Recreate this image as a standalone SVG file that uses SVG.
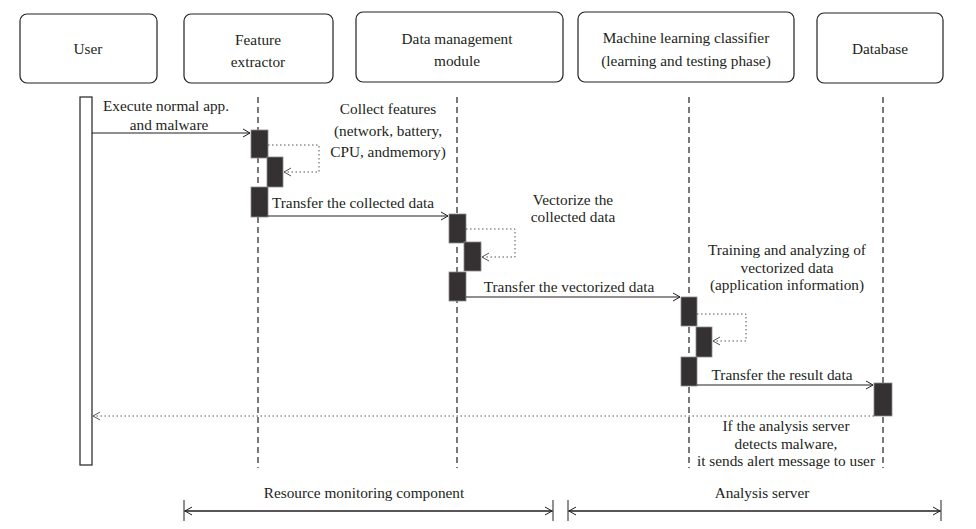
<svg xmlns="http://www.w3.org/2000/svg" width="976" height="529" viewBox="0 0 976 529">
<style>
text{font-family:"Liberation Serif","DejaVu Serif",serif;font-size:15.3px;fill:#231f20;text-anchor:middle}
.box{fill:#fff;stroke:#231f20;stroke-width:1.2}
.life{stroke:#231f20;stroke-width:1.2;stroke-dasharray:6,4;fill:none}
.act{fill:#353132;stroke:#8a8a8a;stroke-width:0.8}
.msg{stroke:#231f20;stroke-width:1.2;fill:none}
.dot{stroke:#555;stroke-width:1;stroke-dasharray:1.5,2.5;fill:none}
.head{fill:none;stroke:#231f20;stroke-width:1}
.tick{stroke:#231f20;stroke-width:1}
</style>
<defs>
<marker id="open" markerWidth="10" markerHeight="10" refX="8" refY="5" orient="auto" markerUnits="userSpaceOnUse">
<path d="M1,1 L8,5 L1,9" class="head"/>
</marker>
<marker id="openg" markerWidth="10" markerHeight="10" refX="8" refY="5" orient="auto" markerUnits="userSpaceOnUse">
<path d="M1,1 L8,5 L1,9" fill="none" stroke="#555" stroke-width="1"/>
</marker>
</defs>
<rect width="976" height="529" fill="#fff"/>

<g id="user">
<rect class="box" x="20" y="14" width="137" height="69" rx="7"/>
<text x="88" y="54">User</text>
<line class="life" x1="86" y1="97" x2="86" y2="465"/>
<rect x="80" y="97" width="12" height="368" fill="#fff" stroke="#231f20" stroke-width="1.2"/>
</g>

<g id="feature-extractor">
<rect class="box" x="184" y="14" width="149" height="69" rx="7"/>
<text x="258" y="45">Feature</text>
<text x="258" y="67">extractor</text>
<line class="life" x1="258" y1="97" x2="258" y2="468"/>
<rect class="act" x="251" y="130" width="17" height="28"/>
<rect class="act" x="267" y="157" width="16" height="30"/>
<rect class="act" x="251" y="187" width="17" height="30"/>
</g>

<g id="data-management">
<rect class="box" x="356" y="12" width="207" height="70" rx="7"/>
<text x="457" y="44">Data management</text>
<text x="457" y="66">module</text>
<line class="life" x1="457" y1="97" x2="457" y2="468"/>
<rect class="act" x="449" y="214" width="17" height="29"/>
<rect class="act" x="464" y="242" width="17" height="29"/>
<rect class="act" x="449" y="272" width="17" height="29"/>
</g>

<g id="ml-classifier">
<rect class="box" x="578" y="12" width="216" height="70" rx="7"/>
<text x="686" y="43">Machine learning classifier</text>
<text x="686" y="66">(learning and testing phase)</text>
<line class="life" x1="689" y1="97" x2="689" y2="468"/>
<rect class="act" x="681" y="297" width="16" height="29"/>
<rect class="act" x="696" y="327" width="16" height="30"/>
<rect class="act" x="681" y="357" width="16" height="29"/>
</g>

<g id="database">
<rect class="box" x="817" y="13" width="126" height="70" rx="7"/>
<text x="880" y="54">Database</text>
<line class="life" x1="883" y1="97" x2="883" y2="468"/>
<rect class="act" x="874" y="383" width="18" height="33"/>
</g>

<g id="connectors">
<line class="msg" x1="92" y1="133" x2="250" y2="133" marker-end="url(#open)"/>
<polyline class="dot" points="268,145 319,145 319,172 284,172" marker-end="url(#openg)"/>
<line class="msg" x1="268" y1="216" x2="448" y2="216" marker-end="url(#open)"/>
<polyline class="dot" points="466,229 515,229 515,257 482,257" marker-end="url(#openg)"/>
<line class="msg" x1="466" y1="297" x2="680" y2="297" marker-end="url(#open)"/>
<polyline class="dot" points="697,314 746,314 746,341 713,341" marker-end="url(#openg)"/>
<line class="msg" x1="697" y1="385" x2="873" y2="385" marker-end="url(#open)"/>
<line class="dot" x1="874" y1="416" x2="93" y2="416" marker-end="url(#openg)"/>
</g>

<g id="labels">
<text x="166" y="111">Execute normal app.</text>
<text x="169" y="130">and malware</text>
<text x="388" y="114">Collect features</text>
<text x="388" y="136">(network, battery,</text>
<text x="388" y="157">CPU, andmemory)</text>
<text x="353" y="208">Transfer the collected data</text>
<text x="573" y="205">Vectorize the</text>
<text x="573" y="222">collected data</text>
<text x="569" y="292">Transfer the vectorized data</text>
<text x="787" y="255">Training and analyzing of</text>
<text x="787" y="273">vectorized data</text>
<text x="787" y="290">(application information)</text>
<text x="782" y="380">Transfer the result data</text>
<text x="786" y="431">If the analysis server</text>
<text x="786" y="449">detects malware,</text>
<text x="786" y="466">it sends alert message to user</text>
</g>

<g id="bottom-ranges">
<line class="tick" x1="184" y1="500" x2="184" y2="521"/>
<line class="tick" x1="553" y1="500" x2="553" y2="521"/>
<line class="msg" x1="553" y1="511" x2="185" y2="511" marker-end="url(#open)"/>
<line class="msg" x1="184" y1="511" x2="552" y2="511" marker-end="url(#open)"/>
<text x="364" y="498">Resource monitoring component</text>
<line class="tick" x1="568" y1="500" x2="568" y2="521"/>
<line class="tick" x1="941" y1="500" x2="941" y2="521"/>
<line class="msg" x1="941" y1="511" x2="569" y2="511" marker-end="url(#open)"/>
<line class="msg" x1="568" y1="511" x2="940" y2="511" marker-end="url(#open)"/>
<text x="762" y="498">Analysis server</text>
</g>
</svg>
